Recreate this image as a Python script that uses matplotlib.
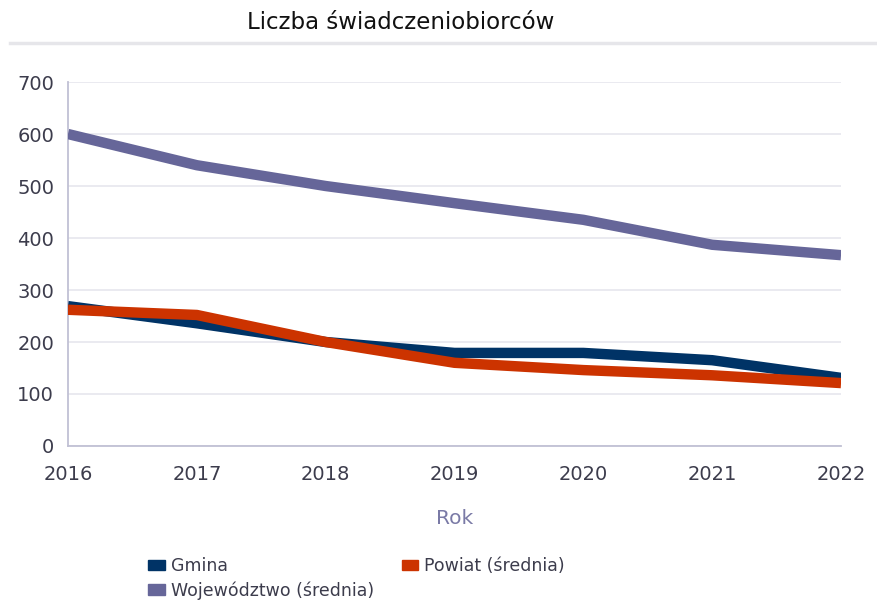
import matplotlib.pyplot as plt
from matplotlib.patches import Patch
from matplotlib.lines import Line2D

years = [2016, 2017, 2018, 2019, 2020, 2021, 2022]
gmina = [269, 236, 200, 179, 179, 165, 131]
powiat = [262, 252, 200, 160, 146, 136, 121]
wojewodztwo = [600, 540, 500, 467, 435, 387, 367]

c_gmina = '#003366'
c_powiat = '#cc3300'
c_woj = '#666699'
txt = '#3c3c4c'

plt.rcParams['font.family'] = ['DejaVu Sans']

fig = plt.figure(figsize=(8.77, 6.04), dpi=100)
ax = fig.add_axes([0.0775, 0.2616, 0.8815, 0.6026])

ax.plot(years, wojewodztwo, color=c_woj, lw=7.5, solid_capstyle='butt', solid_joinstyle='round', zorder=3)
ax.plot(years, gmina, color=c_gmina, lw=7.5, solid_capstyle='butt', solid_joinstyle='round', zorder=3)
ax.plot(years, powiat, color=c_powiat, lw=7.5, solid_capstyle='butt', solid_joinstyle='round', zorder=4)

ax.set_xlim(2016, 2022)
ax.set_ylim(0, 700)
ax.set_yticks(range(0, 701, 100))
ax.set_xticks(years)
ax.grid(axis='y', color='#e8e8ef', lw=1.3)
ax.set_axisbelow(True)
for s in ['top', 'right']:
    ax.spines[s].set_visible(False)
for s in ['left', 'bottom']:
    ax.spines[s].set_color('#c0c0d4')
    ax.spines[s].set_linewidth(1.3)
ax.tick_params(length=0, labelsize=14, colors=txt)
ax.tick_params(axis='x', pad=14)
ax.tick_params(axis='y', pad=10)
ax.set_xlabel('Rok', color='#7a7aa6', fontsize=14.5, labelpad=18)

fig.text(0.457, 0.963, 'Liczba świadczeniobiorców', ha='center', va='center', fontsize=16.5, color='#111111')
fig.add_artist(Line2D([0.011, 1.0], [0.929, 0.929], transform=fig.transFigure, color='#e6e6ea', lw=2.5))

handles = [Patch(color=c_gmina), Patch(color=c_woj), Patch(color=c_powiat)]
labels = ['Gmina', 'Województwo (średnia)', 'Powiat (średnia)']
fig.legend(handles, labels, ncol=2, loc='upper left', bbox_to_anchor=(0.159, 0.092),
           frameon=False, fontsize=12.5, labelcolor=txt, handlelength=0.95, handleheight=0.57,
           handletextpad=0.35, labelspacing=0.35, columnspacing=1.6, borderpad=0)

fig.savefig('out.png', dpi=100)
